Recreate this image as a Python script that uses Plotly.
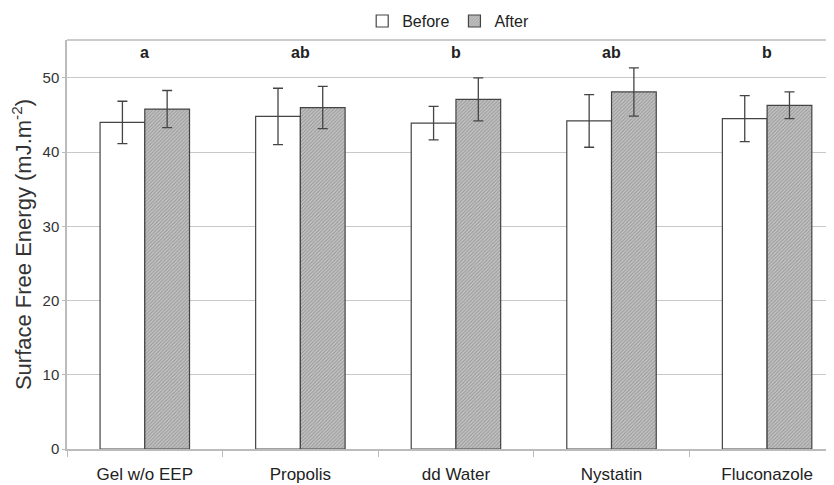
import plotly.graph_objects as go

categories = ["Gel w/o EEP", "Propolis", "dd Water", "Nystatin", "Fluconazole"]
before_vals = [44.0, 44.8, 43.9, 44.2, 44.5]
before_err = [2.85, 3.8, 2.25, 3.55, 3.1]
after_vals = [45.8, 46.0, 47.1, 48.1, 46.3]
after_err = [2.5, 2.85, 2.9, 3.25, 1.8]
letters = ["a", "ab", "b", "ab", "b"]
letter_y = 53.4

fig = go.Figure()
fig.add_trace(go.Bar(
    x=categories, y=before_vals, name="Before",
    marker=dict(color="white", line=dict(color="#444444", width=1.2)),
    error_y=dict(type="data", array=before_err, color="#444444", thickness=1.3, width=5),
))
fig.add_trace(go.Bar(
    x=categories, y=after_vals, name="After",
    marker=dict(color="#b8b8b8", line=dict(color="#444444", width=1.2),
                pattern=dict(shape="/", fgcolor="#666666", bgcolor="#c4c4c4", size=2.5, solidity=0.4)),
    error_y=dict(type="data", array=after_err, color="#444444", thickness=1.3, width=5),
))

for c, l in zip(categories, letters):
    fig.add_annotation(x=c, y=letter_y, text="<b>" + l + "</b>", showarrow=False,
                       font=dict(family="Liberation Sans Narrow, Liberation Sans", size=16, color="#222222"))

fig.update_layout(
    width=834, height=485,
    margin=dict(l=59, r=8, t=32, b=44, autoexpand=False),
    paper_bgcolor="white", plot_bgcolor="white",
    barmode="group", bargap=0.425, bargroupgap=0,
    font=dict(family="Liberation Sans, Arial", color="#333333"),
    legend=dict(orientation="h", xref="paper", x=0.497, xanchor="center",
                yref="container", y=0.973, yanchor="middle",
                font=dict(size=16, color="#222222"), bgcolor="rgba(0,0,0,0)"),
    showlegend=True,
)
fig.update_xaxes(
    range=[-0.5, 4.43], showline=True, linecolor="#bbbbbb", linewidth=1.5,
    ticks="outside", tickson="boundaries", ticklen=6, tickcolor="#bbbbbb",
    tickfont=dict(size=17, color="#222222"), mirror=False, automargin=False,
    ticklabelstandoff=9,
)
fig.update_yaxes(
    range=[0, 55.1], dtick=10, showgrid=True, gridcolor="#c8c8c8", gridwidth=1,
    showline=True, linecolor="#bbbbbb", linewidth=1.5, ticks="outside", ticklen=3,
    tickcolor="#bbbbbb", tickfont=dict(size=15, color="#333333"), zeroline=False,
    automargin=False,
    title=dict(text="Surface Free Energy (mJ.m<sup>-2</sup>)", font=dict(size=22, color="#333333"), standoff=16),
)
fig.add_shape(type="line", xref="paper", yref="paper", x0=0, x1=1, y0=1, y1=1,
              line=dict(color="#bbbbbb", width=1.5))

fig.write_html("out.html")
